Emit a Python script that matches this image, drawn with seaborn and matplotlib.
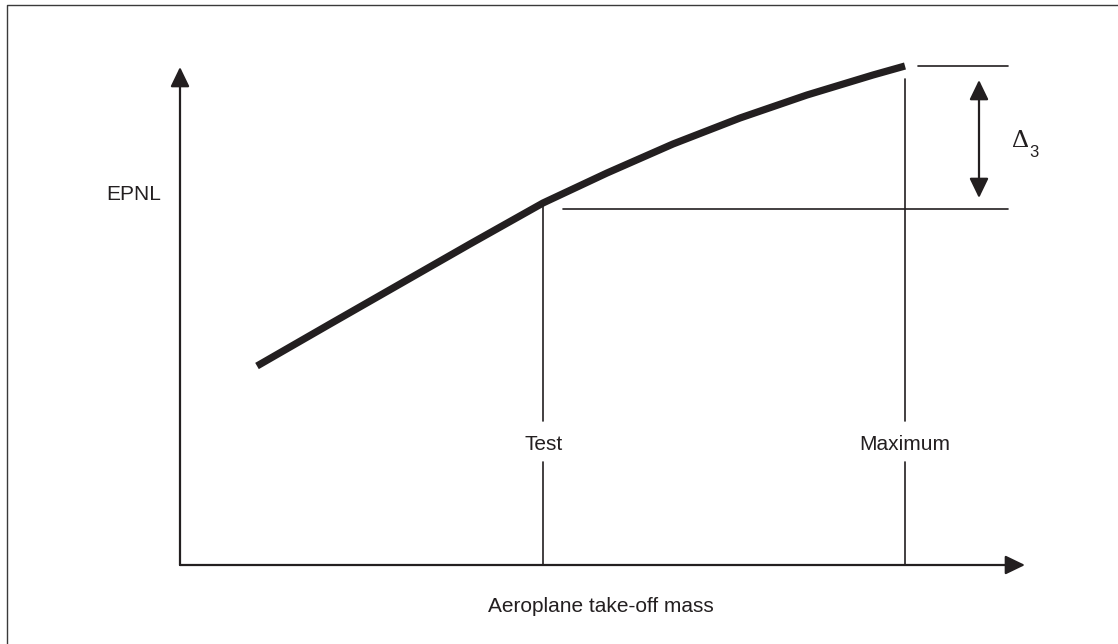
import matplotlib
matplotlib.use('Agg')
import matplotlib.pyplot as plt
import seaborn as sns
import pandas as pd

# ============================================
# Data (mass / EPNL in arbitrary units, origin at axes corner)
# ============================================
MASS = [77, 150, 220, 290, 363, 427, 493, 560, 627, 693, 725]
EPNL = [199, 241, 281, 321, 362, 392, 421, 447, 470, 490, 499]

TEST_MASS = 363
MAX_MASS = 725
TEST_LEVEL = 356
MAX_LEVEL = 499

X_LABEL = 'Aeroplane take-off mass'
Y_LABEL = 'EPNL'
MARK_LABELS = ['Test', 'Maximum']

INK = '#231f20'
FONT = ['Liberation Sans', 'DejaVu Sans']

sns.set_theme(style='white')
plt.rcParams['font.family'] = FONT

fig = plt.figure(figsize=(11.18, 6.44), dpi=100)
ax = fig.add_axes([0, 0, 1, 1])
ax.set_xlim(-180, 938)
ax.set_ylim(-79, 565)
ax.axis('off')

# frame (only left and top edges visible)
ax.plot([-173, -173, 938], [-79, 560, 560], color='#3a3a3a', lw=1.0)

# axes with arrow heads
arrow = dict(arrowstyle='-|>,head_length=12,head_width=5.8', color=INK,
             lw=1.6, shrinkA=0, shrinkB=0, mutation_scale=1)
ax.annotate('', xy=(0, 498), xytext=(0, 0), arrowprops=arrow)
ax.annotate('', xy=(845, 0), xytext=(0, 0), arrowprops=arrow)

# curve
df = pd.DataFrame({'mass': MASS, 'epnl': EPNL})
sns.lineplot(data=df, x='mass', y='epnl', ax=ax, color=INK, lw=5.2,
             solid_capstyle='butt', solid_joinstyle='round', sort=False)

# reference lines
thin = dict(color=INK, lw=1.2)
gap_top, gap_bot = 144, 103
ax.plot([TEST_MASS, TEST_MASS], [TEST_LEVEL + 4, gap_top], **thin)
ax.plot([TEST_MASS, TEST_MASS], [gap_bot, 0], **thin)
ax.plot([MAX_MASS, MAX_MASS], [MAX_LEVEL - 13, gap_top], **thin)
ax.plot([MAX_MASS, MAX_MASS], [gap_bot, 0], **thin)
ax.plot([TEST_MASS + 20, 828], [TEST_LEVEL, TEST_LEVEL], **thin)
ax.plot([MAX_MASS + 13, 828], [MAX_LEVEL, MAX_LEVEL], **thin)

# delta double arrow
darrow = dict(arrowstyle='<|-|>,head_length=12,head_width=5.8', color=INK,
              lw=1.6, shrinkA=0, shrinkB=0, mutation_scale=1)
ax.annotate('', xy=(799, 485), xytext=(799, 367), arrowprops=darrow)

ax.text(832, 424, '\u0394', fontsize=19, family=['Liberation Serif', 'DejaVu Serif'],
        color=INK, ha='left', va='center')
ax.text(849, 413, '3', fontsize=12, color=INK, ha='left', va='center')

# labels
ax.text(TEST_MASS + 1, 121, MARK_LABELS[0], fontsize=15, color=INK,
        ha='center', va='center')
ax.text(MAX_MASS, 121, MARK_LABELS[1], fontsize=15, color=INK,
        ha='center', va='center')
ax.text(-74, 371, Y_LABEL, fontsize=15, color=INK, ha='left', va='center')
ax.text(308, -42, X_LABEL, fontsize=15, color=INK, ha='left', va='center')

fig.savefig('out.png', dpi=100, facecolor='white')
